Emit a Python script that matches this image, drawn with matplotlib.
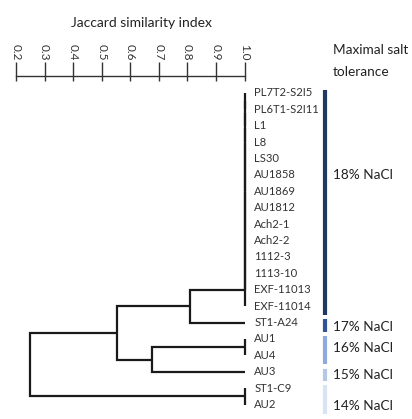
import matplotlib
matplotlib.use("Agg")
import matplotlib.pyplot as plt
from matplotlib import font_manager

# ---------------- data ----------------
leaves = ["PL7T2-S2I5", "PL6T1-S2I11", "L1", "L8", "LS30", "AU1858", "AU1869",
          "AU1812", "Ach2-1", "Ach2-2", "1112-3", "1113-10", "EXF-11013",
          "EXF-11014", "ST1-A24", "AU1", "AU4", "AU3", "ST1-C9", "AU2"]

# linkage: (child_a, child_b, similarity); new cluster ids start at len(leaves)
merge_a = [0, 20, 21, 22, 23, 24, 25, 26, 27, 28, 29, 30, 31, 32, 15, 34, 33, 18, 36]
merge_b = [1, 2, 3, 4, 5, 6, 7, 8, 9, 10, 11, 12, 13, 14, 16, 17, 35, 19, 37]
merge_sim = [1.0, 1.0, 1.0, 1.0, 1.0, 1.0, 1.0, 1.0, 1.0, 1.0, 1.0, 1.0, 1.0,
             0.808, 1.0, 0.676, 0.553, 1.0, 0.25]

x_ticks = [0.2, 0.3, 0.4, 0.5, 0.6, 0.7, 0.8, 0.9, 1.0]
x_ticklabels = ["0.2", "0.3", "0.4", "0.5", "0.6", "0.7", "0.8", "0.9", "1.0"]

groups = ["18% NaCl", "17% NaCl", "16% NaCl", "15% NaCl", "14% NaCl"]
group_first = [0, 14, 15, 17, 18]
group_last = [13, 14, 16, 17, 19]
group_colors = ["#1f3864", "#2f5597", "#8faadc", "#b4c7e7", "#dae3f3"]

# ---------------- fonts ----------------
names = {f.name for f in font_manager.fontManager.ttflist}
main_font = "Lato" if "Lato" in names else "DejaVu Sans"

W, H = 412, 419
fig = plt.figure(figsize=(W / 100, H / 100), dpi=100)

# pixel layout
y0_px, dy_px = 93.0, 16.4      # first leaf y, leaf spacing
axis_top_px = 76.0
x_left_px, x_right_px = 16.0, 244.5

ytop = (axis_top_px - y0_px) / dy_px
ybot = (H - y0_px) / dy_px

ax = fig.add_axes([x_left_px / W, 0, (x_right_px - x_left_px) / W, (H - axis_top_px) / H])
ax.set_xlim(0.2, 1.0)
ax.set_ylim(ybot, ytop)

# ---------------- dendrogram ----------------
n = len(leaves)
pos = {i: (1.0, float(i)) for i in range(n)}
lc = "#1a1a1a"
lw = 1.6
for k, (a, b, s) in enumerate(zip(merge_a, merge_b, merge_sim)):
    xa, ya = pos[a]
    xb, yb = pos[b]
    ax.plot([xa, s, s, xb], [ya, ya, yb, yb], color=lc, lw=lw,
            solid_capstyle="butt", solid_joinstyle="miter", clip_on=False)
    pos[n + k] = (s, (ya + yb) / 2)

# leaf labels
for i, name in enumerate(leaves):
    ax.annotate(name, xy=(1.0, i), xytext=(7, 0), textcoords="offset points",
                ha="left", va="center", fontsize=8.1, family=main_font,
                color="#333333", annotation_clip=False)

# axis styling
for sp in ["right", "bottom", "left"]:
    ax.spines[sp].set_visible(False)
ax.spines["top"].set_color("#333333")
ax.spines["top"].set_linewidth(1.0)
ax.set_yticks([])
ax.xaxis.tick_top()
ax.set_xticks(x_ticks)
ax.set_xticks(x_ticks, minor=True)
ax.xaxis.remove_overlapping_locs = False
ax.set_xticklabels(x_ticklabels, rotation=270, family=main_font, fontsize=8.5,
                   color="#333333")
ax.tick_params(axis="x", which="major", direction="out", length=10, width=1.0,
               pad=1.5, color="#333333")
ax.tick_params(axis="x", which="minor", direction="in", length=3.5, width=1.0,
               color="#333333", labeltop=False)

fig.text(141 / W, 1 - 23 / H, "Jaccard similarity index", ha="center", va="center",
         family=main_font, fontsize=10, color="#222222")

# ---------------- salt tolerance bars ----------------
ax2 = fig.add_axes([300 / W, 0, 112 / W, (H - axis_top_px) / H])
ax2.set_xlim(0, 112)
ax2.set_ylim(ybot, ytop)
ax2.axis("off")
label_rows = [5.0, 14.25, 15.55, 17.2, 19.1]
for g, f, l, c, ly in zip(groups, group_first, group_last, group_colors, label_rows):
    ax2.plot([24.5, 24.5], [f - 0.2, l + 0.55], color=c, lw=3.0,
             solid_capstyle="butt", clip_on=False)
    ax2.text(33, ly, g, ha="left", va="center", family=main_font, fontsize=9.8,
             color="#222222", clip_on=False)

fig.text(333 / W, 1 - 61 / H, "Maximal salt\ntolerance", ha="left", va="center",
         family=main_font, fontsize=9.8, color="#222222", linespacing=2.05)

fig.savefig("out.png", dpi=100)
